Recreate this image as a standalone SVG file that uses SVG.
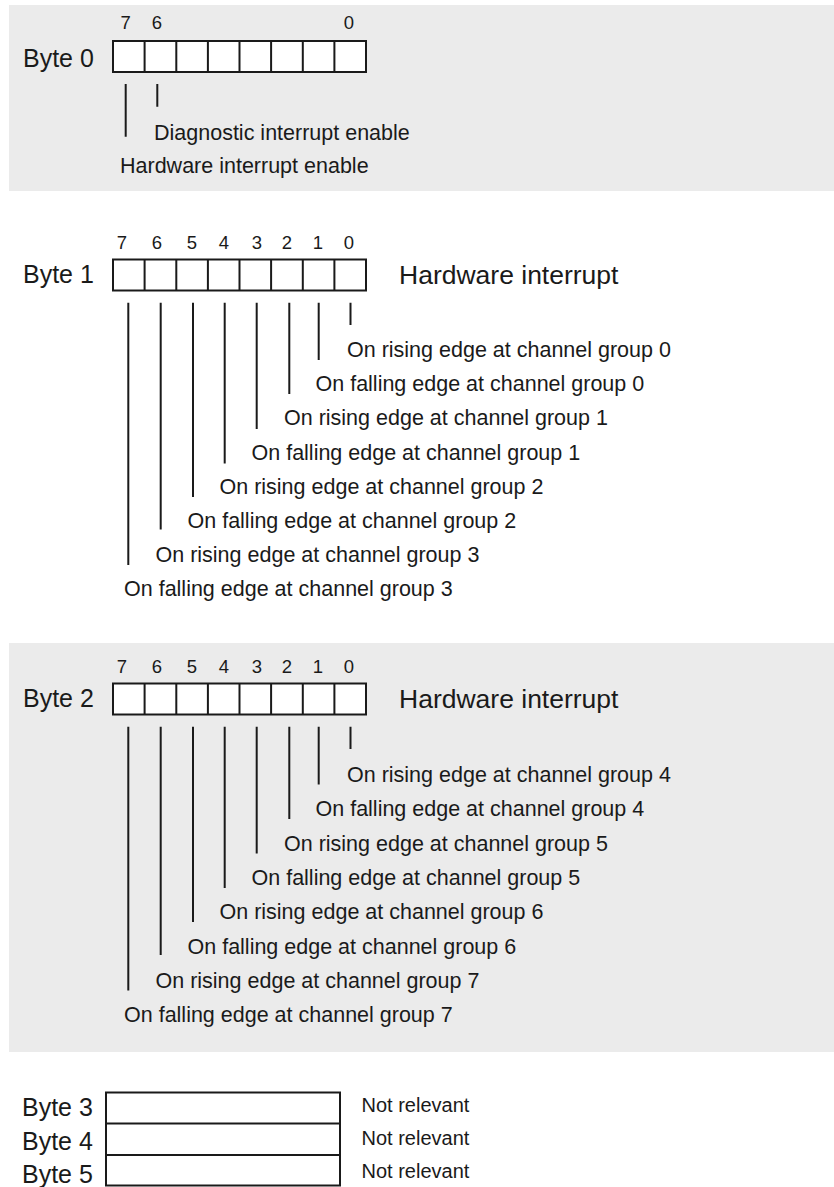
<svg xmlns="http://www.w3.org/2000/svg" width="834" height="1187" viewBox="0 0 834 1187">
<style>
text{font-family:"Liberation Sans",Arial,sans-serif;fill:#1a1a1a}
.byte{font-size:25px}
.dig{font-size:18.5px;text-anchor:middle}
.lbl{font-size:21.5px}
.hw{font-size:26.5px}
.nr{font-size:20px}
.reg{fill:#fff;stroke:#1a1a1a;stroke-width:2}
.ln{stroke:#1a1a1a;stroke-width:2;fill:none}
.bg{fill:#ebebeb}
</style>
<rect class="bg" x="9" y="5" width="825" height="186"/>
<rect class="bg" x="9" y="643" width="825" height="409"/>

<g id="byte0">
<text class="byte" x="23" y="66.5">Byte 0</text>
<text class="dig" x="125.7" y="29">7</text>
<text class="dig" x="157" y="29">6</text>
<text class="dig" x="349" y="29">0</text>
<rect class="reg" x="113" y="41" width="253" height="31"/>
<path class="ln" d="M144.6 41V72M176.3 41V72M207.9 41V72M239.5 41V72M271.1 41V72M302.8 41V72M334.4 41V72"/>
<text class="lbl" x="154" y="139.5">Diagnostic interrupt enable</text>
<text class="lbl" x="120" y="172.7">Hardware interrupt enable</text>
</g>

<g id="byte1">
<text class="byte" x="23" y="283.3">Byte 1</text>
<g class="dig-row">
<text class="dig" x="122" y="249">7</text>
<text class="dig" x="157" y="249">6</text>
<text class="dig" x="192" y="249">5</text>
<text class="dig" x="224" y="249">4</text>
<text class="dig" x="257" y="249">3</text>
<text class="dig" x="287" y="249">2</text>
<text class="dig" x="318" y="249">1</text>
<text class="dig" x="349" y="249">0</text>
</g>
<rect class="reg" x="113" y="259.5" width="253" height="31"/>
<path class="ln" d="M144.6 259.5V290.5M176.3 259.5V290.5M207.9 259.5V290.5M239.5 259.5V290.5M271.1 259.5V290.5M302.8 259.5V290.5M334.4 259.5V290.5"/>
<text class="hw" x="399" y="284.3">Hardware interrupt</text>
<text class="lbl" x="347" y="357">On rising edge at channel group 0</text>
<text class="lbl" x="315.5" y="391.2">On falling edge at channel group 0</text>
<text class="lbl" x="284" y="425.4">On rising edge at channel group 1</text>
<text class="lbl" x="251.5" y="459.6">On falling edge at channel group 1</text>
<text class="lbl" x="219.5" y="493.8">On rising edge at channel group 2</text>
<text class="lbl" x="187.5" y="528">On falling edge at channel group 2</text>
<text class="lbl" x="155.5" y="562.2">On rising edge at channel group 3</text>
<text class="lbl" x="124" y="596.4">On falling edge at channel group 3</text>
</g>

<g id="byte2">
<text class="byte" x="23" y="707.3">Byte 2</text>
<text class="dig" x="122" y="673">7</text>
<text class="dig" x="157" y="673">6</text>
<text class="dig" x="192" y="673">5</text>
<text class="dig" x="224" y="673">4</text>
<text class="dig" x="257" y="673">3</text>
<text class="dig" x="287" y="673">2</text>
<text class="dig" x="318" y="673">1</text>
<text class="dig" x="349" y="673">0</text>
<rect class="reg" x="113" y="683.5" width="253" height="31"/>
<path class="ln" d="M144.6 683.5V714.5M176.3 683.5V714.5M207.9 683.5V714.5M239.5 683.5V714.5M271.1 683.5V714.5M302.8 683.5V714.5M334.4 683.5V714.5"/>
<text class="hw" x="399" y="708.3">Hardware interrupt</text>
<text class="lbl" x="347" y="782">On rising edge at channel group 4</text>
<text class="lbl" x="315.5" y="816.3">On falling edge at channel group 4</text>
<text class="lbl" x="284" y="850.6">On rising edge at channel group 5</text>
<text class="lbl" x="251.5" y="884.9">On falling edge at channel group 5</text>
<text class="lbl" x="219.5" y="919.2">On rising edge at channel group 6</text>
<text class="lbl" x="187.5" y="953.5">On falling edge at channel group 6</text>
<text class="lbl" x="155.5" y="987.8">On rising edge at channel group 7</text>
<text class="lbl" x="124" y="1022.1">On falling edge at channel group 7</text>
</g>

<g id="byte345">
<text class="byte" x="22" y="1116">Byte 3</text>
<text class="byte" x="22" y="1149.5">Byte 4</text>
<text class="byte" x="22" y="1182.5">Byte 5</text>
<rect class="reg" x="106" y="1092.5" width="234" height="93"/>
<path class="ln" d="M106 1123.5H340M106 1155H340"/>
<text class="nr" x="361.5" y="1112.3">Not relevant</text>
<text class="nr" x="361.5" y="1144.5">Not relevant</text>
<text class="nr" x="361.5" y="1178.3">Not relevant</text>
</g>

<g id="connectors">
<path class="ln" d="M125.7 84V136.7M157.3 84V106.7"/>
<path class="ln" d="M350.5 302.7V325M318.7 302.7V360M289.3 302.7V394M256.7 302.7V429M224.7 302.7V463.5M193 302.7V497M160.7 302.7V529.5M128.3 302.7V565"/>
<path class="ln" d="M350.5 726.7V749M318.7 726.7V784.5M289.3 726.7V819M256.7 726.7V853.5M224.7 726.7V888M193 726.7V922M160.7 726.7V955M128.3 726.7V990.5"/>
</g>
</svg>
